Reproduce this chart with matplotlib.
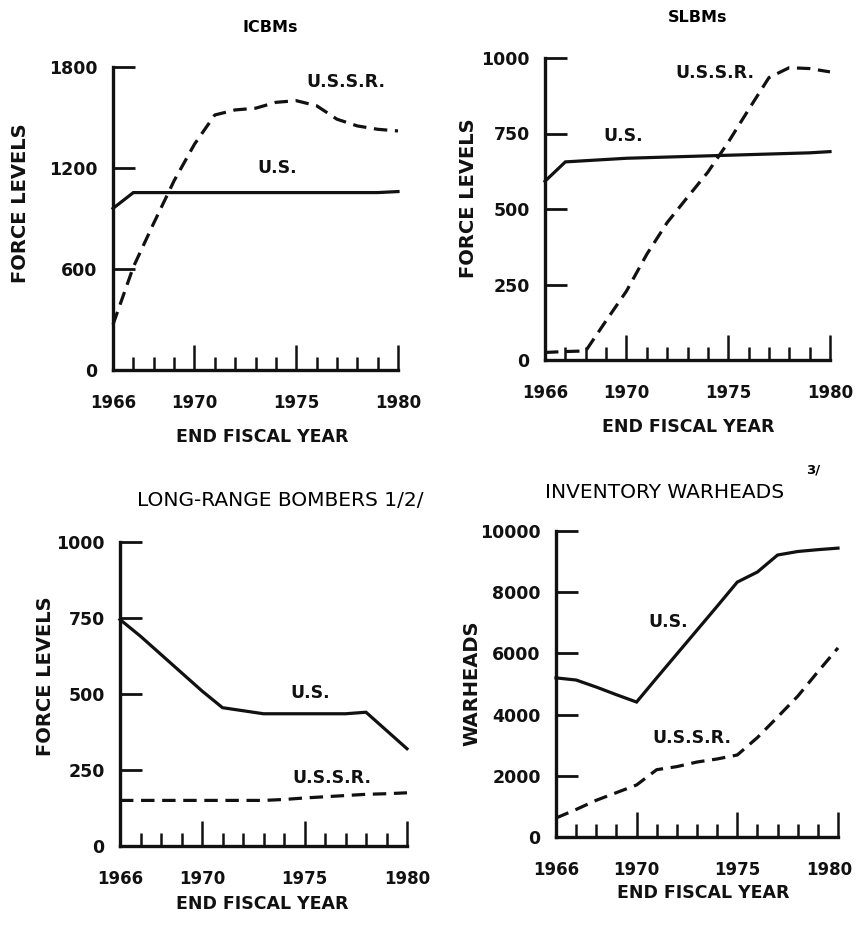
import numpy as np
import matplotlib
matplotlib.use("Agg")
import matplotlib.pyplot as plt
import matplotlib.transforms as mtransforms
from matplotlib.ticker import FixedLocator

plt.rcParams["font.family"] = ["DejaVu Sans"]

years = np.arange(1966, 1981)

# ICBMs
icbm_us = [960, 1054, 1054, 1054, 1054, 1054, 1054, 1054, 1054, 1054, 1054, 1054, 1054, 1054, 1060]
icbm_ussr = [270, 612, 872, 1124, 1341, 1515, 1545, 1555, 1590, 1600, 1570, 1490, 1450, 1430, 1420]
# SLBMs
slbm_us = [592, 656, 660, 664, 668, 670, 672, 674, 676, 678, 680, 682, 684, 686, 690]
slbm_ussr = [25, 28, 30, 130, 228, 350, 455, 539, 622, 721, 829, 935, 968, 965, 954]
# Long-range bombers
bomb_us = [745, 690, 630, 570, 510, 455, 445, 435, 435, 435, 435, 435, 440, 380, 320]
bomb_ussr = [150, 150, 150, 150, 150, 150, 150, 150, 153, 158, 162, 166, 170, 172, 175]
# Inventory warheads
wh_us = [5200, 5130, 4900, 4650, 4410, 5200, 5980, 6760, 7540, 8330, 8660, 9215, 9330, 9390, 9440]
wh_ussr = [620, 900, 1200, 1450, 1700, 2200, 2300, 2450, 2550, 2680, 3250, 3920, 4600, 5400, 6180]

W, H = 858, 926
fig = plt.figure(figsize=(W / 100, H / 100), dpi=100, facecolor="white")

LW = 2.3
DASH = (4.2, 2.4)
BLACK = "#111111"


def px(x, y):
    return x / W, 1 - y / H


def make_ax(box, ymax, yticks, ylabel, ylab_xy):
    l, t, r, b = box
    ax = fig.add_axes([l / W, 1 - b / H, (r - l) / W, (b - t) / H])
    ax.set_xlim(1966, 1980)
    ax.set_ylim(0, ymax)
    for s in ["top", "right"]:
        ax.spines[s].set_visible(False)
    for s in ["left", "bottom"]:
        ax.spines[s].set_linewidth(2.4)
        ax.spines[s].set_color(BLACK)
    ax.set_yticks(yticks)
    ax.set_yticklabels([str(v) for v in yticks])
    ax.tick_params(axis="y", direction="in", length=16, width=2.0, pad=11,
                   labelsize=12.5, colors=BLACK)
    ax.set_xticks([1966, 1970, 1975, 1980])
    ax.set_xticklabels(["1966", "1970", "1975", "1980"])
    ax.xaxis.set_minor_locator(FixedLocator(list(range(1967, 1980))))
    ax.tick_params(axis="x", which="major", direction="in", length=18, width=1.8,
                   pad=17, labelsize=12, colors=BLACK)
    ax.tick_params(axis="x", which="minor", direction="in", length=9.5, width=1.8,
                   colors=BLACK)
    for lab in ax.get_xticklabels() + ax.get_yticklabels():
        lab.set_fontweight("bold")
    ax.set_ylabel(ylabel, fontsize=14, fontweight="bold", color=BLACK, va="center")
    ax.yaxis.set_label_coords(*ylab_xy)
    return ax


def draw(ax, us, ussr):
    ax.plot(years, us, color=BLACK, lw=LW, solid_joinstyle="miter", clip_on=False)
    ax.plot(years, ussr, color=BLACK, lw=LW, linestyle=(0, DASH), clip_on=False)


def label(ax, x, y, s):
    ax.text(x, y, s, fontsize=12.5, fontweight="bold", color=BLACK, va="center", ha="left")


def xlabel(x, y):
    fig.text(*px(x, y), "END FISCAL YEAR", fontsize=12.5, fontweight="bold",
             ha="center", va="center", color=BLACK)


# panel 1: ICBMs
ax1 = make_ax((113, 67, 398, 370), 1800, [0, 600, 1200, 1800], "FORCE LEVELS", (-0.326, 0.551))
draw(ax1, icbm_us, icbm_ussr)
label(ax1, 1975.5, 1711, "U.S.S.R.")
label(ax1, 1973.07, 1200, "U.S.")
fig.text(*px(270, 27), "ICBMs", fontsize=11.5, fontweight="bold", ha="center", va="center")
xlabel(262, 437)

# panel 2: SLBMs
ax2 = make_ax((545, 58, 830, 360), 1000, [0, 250, 500, 750, 1000], "FORCE LEVELS", (-0.27, 0.536))
draw(ax2, slbm_us, slbm_ussr)
label(ax2, 1972.4, 950, "U.S.S.R.")
label(ax2, 1968.85, 742, "U.S.")
fig.text(*px(698, 17), "SLBMs", fontsize=11.5, fontweight="bold", ha="center", va="center")
xlabel(688, 427)

# panel 3: long-range bombers
ax3 = make_ax((120, 542, 407, 846), 1000, [0, 250, 500, 750, 1000], "FORCE LEVELS", (-0.258, 0.559))
draw(ax3, bomb_us, bomb_ussr)
label(ax3, 1974.3, 503, "U.S.")
label(ax3, 1974.4, 224, "U.S.S.R.")
fig.text(*px(280, 501), "LONG-RANGE BOMBERS 1/2/", fontsize=14.5, ha="center", va="center")
xlabel(262, 904)

# panel 4: inventory warheads
ax4 = make_ax((556, 531, 838, 837), 10000, [0, 2000, 4000, 6000, 8000, 10000], "WARHEADS", (-0.298, 0.503))
draw(ax4, wh_us, wh_ussr)
label(ax4, 1970.57, 7026, "U.S.")
label(ax4, 1970.77, 3235, "U.S.S.R.")
fig.text(*px(665, 493), "INVENTORY WARHEADS", fontsize=14.5, ha="center", va="center")
fig.text(*px(813, 470), "3/", fontsize=9.5, fontweight="bold", ha="center", va="center")
xlabel(703, 893)

# last year label on the warheads panel sits a little left of the axis end
last = ax4.get_xticklabels()[-1]
last.set_transform(last.get_transform() + mtransforms.ScaledTranslation(-9 / 100, 0, fig.dpi_scale_trans))

fig.savefig("out.png", dpi=100, facecolor="white")
